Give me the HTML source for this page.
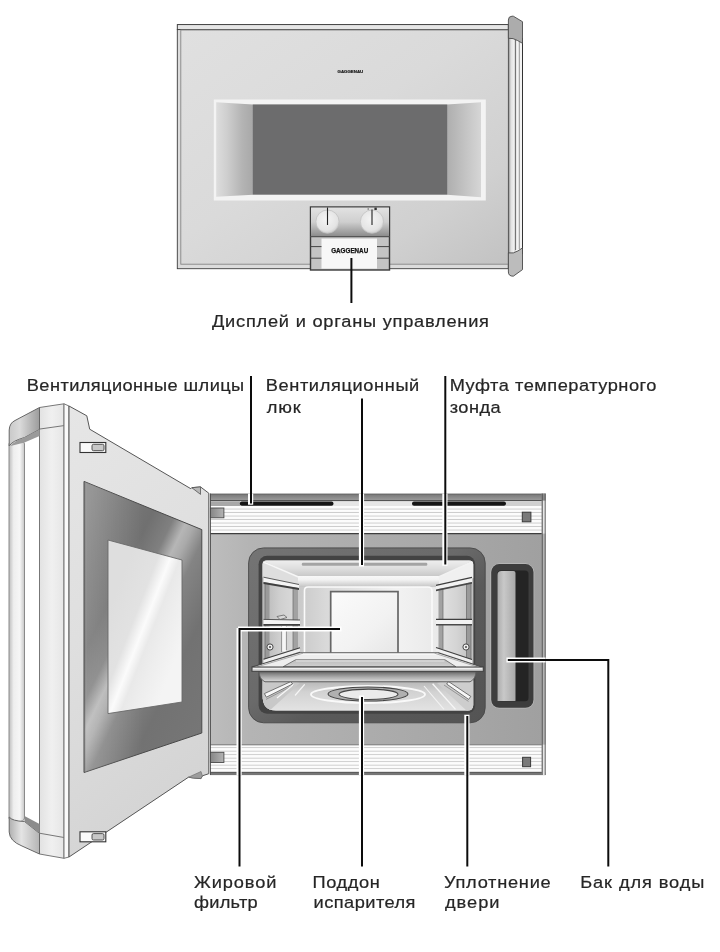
<!DOCTYPE html>
<html lang="ru">
<head>
<meta charset="utf-8">
<title>Gaggenau</title>
<style>
html,body{margin:0;padding:0;background:#fff;}
body{width:720px;height:952px;overflow:hidden;font-family:"Liberation Sans",sans-serif;}
svg{display:block;position:absolute;left:0;top:0;will-change:transform;}
text{font-family:"Liberation Sans",sans-serif;fill:#2a2a2a;}
.lbl{font-size:17.2px;stroke:#262626;stroke-width:0.22px;fill:#262626;}
.ld{stroke:#0c0c0c;stroke-width:2;fill:none;}
.ldh{stroke:#fff;stroke-width:5.2;fill:none;}
</style>
</head>
<body>
<svg width="720" height="952" viewBox="0 0 720 952">
<defs>
<linearGradient id="gFace" x1="0" y1="0" x2="1" y2="1">
<stop offset="0" stop-color="#e0e0e0"/><stop offset="0.45" stop-color="#dadada"/><stop offset="0.78" stop-color="#d0d0d0"/><stop offset="1" stop-color="#c2c2c2"/>
</linearGradient>
<linearGradient id="gBevL" x1="0" y1="0" x2="1" y2="0">
<stop offset="0" stop-color="#dddddd"/><stop offset="0.3" stop-color="#cecece"/><stop offset="0.7" stop-color="#b4b4b4"/><stop offset="1" stop-color="#a8a8a8"/>
</linearGradient>
<linearGradient id="gBevR" x1="0" y1="0" x2="1" y2="0">
<stop offset="0" stop-color="#aeaeae"/><stop offset="0.4" stop-color="#bebebe"/><stop offset="1" stop-color="#d6d6d6"/>
</linearGradient>
<linearGradient id="gKnobArea" x1="0" y1="0" x2="0" y2="1">
<stop offset="0" stop-color="#e2e2e2"/><stop offset="0.5" stop-color="#cfcfcf"/><stop offset="1" stop-color="#8c8c8c"/>
</linearGradient>
<radialGradient id="gKnob" cx="0.45" cy="0.4" r="0.6">
<stop offset="0" stop-color="#f4f4f4"/><stop offset="0.8" stop-color="#e4e4e4"/><stop offset="1" stop-color="#cfcfcf"/>
</radialGradient>
<linearGradient id="gHandle" x1="0" y1="0" x2="1" y2="0">
<stop offset="0" stop-color="#9a9a9a"/><stop offset="0.4" stop-color="#e2e2e2"/><stop offset="0.75" stop-color="#f0f0f0"/><stop offset="1" stop-color="#c4c4c4"/>
</linearGradient>
</defs>

<!-- ================= TOP OVEN ================= -->
<g id="top-oven">
<!-- top lip -->
<rect x="177.3" y="24.6" width="331" height="5" fill="#e6e6e6" stroke="#2e2e2e" stroke-width="0.9"/>
<!-- body -->
<rect x="177.3" y="29.6" width="331" height="239.1" fill="#dcdcdc" stroke="#3c3c3c" stroke-width="0.9"/>
<rect x="180.8" y="30" width="327.5" height="234.2" fill="url(#gFace)" stroke="#868686" stroke-width="0.9"/>
<!-- window frame -->
<rect x="213.8" y="99.5" width="272" height="101" fill="#f3f3f3"/>
<polygon points="216.2,102.3 253,104.4 253,194.7 216.2,196.8" fill="url(#gBevL)"/>
<polygon points="447,104.4 481,102.2 481,197.2 447,194.7" fill="url(#gBevR)"/>
<rect x="252.8" y="104.4" width="194.4" height="90.3" fill="#6c6c6d"/>
<!-- logo top -->
<text x="337.6" y="73.2" textLength="25.6" lengthAdjust="spacingAndGlyphs" style="font-size:4px;font-weight:bold;fill:#222;stroke:#222;stroke-width:0.2">GAGGENAU</text>
<!-- handle -->
<rect x="508.3" y="38" width="14.2" height="216" fill="#f4f4f4"/>
<rect x="508.3" y="38" width="7.2" height="216" fill="url(#gHandle)"/>
<line x1="508.6" y1="38" x2="508.6" y2="254" stroke="#555" stroke-width="1"/>
<line x1="515.6" y1="40" x2="515.6" y2="250" stroke="#6a6a6a" stroke-width="1"/>
<line x1="519.3" y1="42" x2="519.3" y2="249" stroke="#8c8c8c" stroke-width="0.9"/>
<line x1="522.5" y1="38" x2="522.5" y2="254" stroke="#333" stroke-width="1"/>
<path d="M508.4 38.3 V20 Q508.4 16.2 512 16.2 H513.3 L522.5 21.7 V43.3 Q517 40 513 38.6 Z" fill="#acacac" stroke="#4a4a4a" stroke-width="0.9"/>
<path d="M508.4 252.9 H513.3 Q518 251.5 522.5 247.9 V269.6 L513.3 276.2 Q508.4 276.2 508.4 272 Z" fill="#bcbcbc" stroke="#4a4a4a" stroke-width="0.9"/>
<!-- control panel -->
<rect x="310.5" y="207" width="79" height="63" fill="#c4c4c4" stroke="#3a3a3a" stroke-width="1.4"/>
<rect x="311" y="207.6" width="78" height="28.6" fill="url(#gKnobArea)"/>
<line x1="310.5" y1="236.6" x2="389.5" y2="236.6" stroke="#555" stroke-width="1.4"/>
<circle cx="327.5" cy="221.6" r="11.6" fill="url(#gKnob)" stroke="#c2c2c2" stroke-width="0.8"/>
<circle cx="372" cy="221.6" r="11.6" fill="url(#gKnob)" stroke="#c2c2c2" stroke-width="0.8"/>
<line x1="327.5" y1="207.5" x2="327.5" y2="225" stroke="#222" stroke-width="1.1"/>
<line x1="372" y1="209.5" x2="372" y2="225" stroke="#222" stroke-width="1.1"/>
<rect x="374.4" y="207.6" width="2.4" height="2.4" fill="#333"/>
<rect x="367.6" y="208.4" width="1.2" height="1.2" fill="#555"/>
<rect x="321.5" y="238.6" width="55.5" height="30" fill="#f7f7f7"/>
<line x1="310.5" y1="246.6" x2="321.5" y2="246.6" stroke="#444" stroke-width="1"/>
<line x1="310.5" y1="258.2" x2="321.5" y2="258.2" stroke="#444" stroke-width="1"/>
<line x1="377" y1="246.6" x2="389.5" y2="246.6" stroke="#444" stroke-width="1"/>
<line x1="377" y1="258.2" x2="389.5" y2="258.2" stroke="#444" stroke-width="1"/>
<text x="331.2" y="252.9" textLength="37" lengthAdjust="spacingAndGlyphs" style="font-size:6.3px;font-weight:bold;fill:#111;stroke:#111;stroke-width:0.25">GAGGENAU</text>
<!-- leader -->
<line x1="351.4" y1="258" x2="351.4" y2="303" class="ld" stroke-width="1.8"/>
</g>
<text class="lbl" transform="translate(212.0 326.5) scale(1.06 1)" textLength="261.32" lengthAdjust="spacing">Дисплей и органы управления</text>

<!-- ================= LABELS ================= -->
<g id="labels">
<text class="lbl" transform="translate(26.8 391.4) scale(1.06 1)" textLength="205.09" lengthAdjust="spacing">Вентиляционные шлицы</text>
<text class="lbl" transform="translate(265.7 391.4) scale(1.06 1)" textLength="144.91" lengthAdjust="spacing">Вентиляционный</text>
<text class="lbl" transform="translate(266.7 412.7) scale(1.06 1)" textLength="32.08" lengthAdjust="spacing">люк</text>
<text class="lbl" transform="translate(449.7 391.4) scale(1.06 1)" textLength="195.09" lengthAdjust="spacing">Муфта температурного</text>
<text class="lbl" transform="translate(449.7 412.7) scale(1.06 1)" textLength="48.11" lengthAdjust="spacing">зонда</text>
<text class="lbl" transform="translate(194.0 888.2) scale(1.06 1)" textLength="77.74" lengthAdjust="spacing">Жировой</text>
<text class="lbl" transform="translate(194.0 908.3) scale(1.06 1)" textLength="60.09" lengthAdjust="spacing">фильтр</text>
<text class="lbl" transform="translate(312.5 888.2) scale(1.06 1)" textLength="63.58" lengthAdjust="spacing">Поддон</text>
<text class="lbl" transform="translate(313.5 908.3) scale(1.06 1)" textLength="96.23" lengthAdjust="spacing">испарителя</text>
<text class="lbl" transform="translate(444.0 888.0) scale(1.06 1)" textLength="100.66" lengthAdjust="spacing">Уплотнение</text>
<text class="lbl" transform="translate(445.0 908.0) scale(1.06 1)" textLength="51.42" lengthAdjust="spacing">двери</text>
<text class="lbl" transform="translate(580.2 888.0) scale(1.06 1)" textLength="117.08" lengthAdjust="spacing">Бак для воды</text>
</g>

<!-- ================= LOWER OVEN (body) ================= -->
<g id="body">
<defs>
<pattern id="pStripe" x="0" y="506" width="7" height="3.5" patternUnits="userSpaceOnUse">
<rect width="7" height="3.5" fill="#fcfcfc"/><rect y="2.6" width="7" height="0.9" fill="#c9c9c9"/>
</pattern>
<pattern id="pStripeB" x="0" y="744.6" width="7" height="3.5" patternUnits="userSpaceOnUse">
<rect width="7" height="3.5" fill="#fcfcfc"/><rect y="2.6" width="7" height="0.9" fill="#c9c9c9"/>
</pattern>
<linearGradient id="gTopStrip" x1="0" y1="0" x2="0" y2="1">
<stop offset="0" stop-color="#5a5a5a"/><stop offset="0.25" stop-color="#7e7e7e"/><stop offset="1" stop-color="#9a9a9a"/>
</linearGradient>
<linearGradient id="gPanel" x1="0" y1="0" x2="1" y2="0">
<stop offset="0" stop-color="#bdbdbd"/><stop offset="0.12" stop-color="#b4b4b4"/><stop offset="0.8" stop-color="#a5a5a5"/><stop offset="1" stop-color="#a0a0a0"/>
</linearGradient>
<linearGradient id="gCeil" x1="0" y1="0" x2="0" y2="1">
<stop offset="0" stop-color="#efefef"/><stop offset="0.5" stop-color="#dedede"/><stop offset="1" stop-color="#c6c6c6"/>
</linearGradient>
<linearGradient id="gWallL" x1="0" y1="0" x2="1" y2="0">
<stop offset="0" stop-color="#b4b4b4"/><stop offset="0.5" stop-color="#cfcfcf"/><stop offset="1" stop-color="#dcdcdc"/>
</linearGradient>
<linearGradient id="gWallR" x1="0" y1="0" x2="1" y2="0">
<stop offset="0" stop-color="#e2e2e2"/><stop offset="0.5" stop-color="#d4d4d4"/><stop offset="1" stop-color="#bebebe"/>
</linearGradient>
<linearGradient id="gBack" x1="0" y1="0" x2="1" y2="0">
<stop offset="0" stop-color="#c9c9c9"/><stop offset="0.2" stop-color="#d9d9d9"/><stop offset="0.7" stop-color="#f2f2f2"/><stop offset="1" stop-color="#e9e9e9"/>
</linearGradient>
<linearGradient id="gBackTop" x1="0" y1="0" x2="0" y2="1">
<stop offset="0" stop-color="#f8f8f8"/><stop offset="0.35" stop-color="#f2f2f2"/><stop offset="1" stop-color="#c4c4c4"/>
</linearGradient>
<linearGradient id="gFloor" x1="0" y1="0" x2="0" y2="1">
<stop offset="0" stop-color="#b6b6b6"/><stop offset="0.35" stop-color="#d2d2d2"/><stop offset="1" stop-color="#e4e4e4"/>
</linearGradient>
<linearGradient id="gTrayIn" x1="0" y1="0" x2="0" y2="1">
<stop offset="0" stop-color="#bcbcbc"/><stop offset="1" stop-color="#d0d0d0"/>
</linearGradient>
<linearGradient id="gTrayFront" x1="0" y1="0" x2="0" y2="1">
<stop offset="0" stop-color="#505050"/><stop offset="0.25" stop-color="#848484"/><stop offset="0.6" stop-color="#b0b0b0"/><stop offset="0.88" stop-color="#cecece"/><stop offset="1" stop-color="#9c9c9c"/>
</linearGradient>
<linearGradient id="gTank" x1="0" y1="0" x2="1" y2="0">
<stop offset="0" stop-color="#acacac"/><stop offset="0.35" stop-color="#c8c8c8"/><stop offset="1" stop-color="#a8a8a8"/>
</linearGradient>
<linearGradient id="gFilter" x1="0" y1="0" x2="1" y2="1">
<stop offset="0" stop-color="#fbfbfb"/><stop offset="0.6" stop-color="#f2f2f2"/><stop offset="1" stop-color="#e6e6e6"/>
</linearGradient>
<linearGradient id="gHinge" x1="0" y1="0" x2="1" y2="0">
<stop offset="0" stop-color="#868686"/><stop offset="1" stop-color="#b4b4b4"/>
</linearGradient>
<linearGradient id="gSeal" x1="0" y1="0" x2="1" y2="1">
<stop offset="0" stop-color="#747474"/><stop offset="0.45" stop-color="#6a6a6a"/><stop offset="0.6" stop-color="#5a5a5a"/><stop offset="1" stop-color="#545454"/>
</linearGradient>
<clipPath id="cCav"><path d="M266.6 560.5 H469 Q473.2 560.5 473.2 564.5 V705 Q473.2 710.6 467.5 710.6 H276 Q262.6 710.6 262.6 696 V564.5 Q262.6 560.5 266.6 560.5 Z"/></clipPath>
</defs>
<!-- outer shell -->
<rect x="210" y="493.6" width="335.5" height="281.4" fill="#fbfbfb"/>
<rect x="210" y="493.6" width="335.5" height="6.6" fill="url(#gTopStrip)"/>
<rect x="210" y="500.2" width="333" height="1.1" fill="#2e2e2e"/>
<rect x="210" y="501.3" width="333" height="4.8" fill="#e6e6e6"/>
<rect x="210" y="501.3" width="30" height="4.8" fill="#a8a8a8"/>
<rect x="506" y="501.3" width="36" height="4.8" fill="#d0d0d0"/>
<rect x="210" y="506" width="333" height="27.6" fill="url(#pStripe)"/>
<rect x="239.8" y="501.5" width="93.7" height="4.2" rx="2" fill="#161616"/>
<rect x="412" y="501.5" width="94" height="4.2" rx="2" fill="#161616"/>
<rect x="522.3" y="512.2" width="8.6" height="9.6" fill="#7a7a7a" stroke="#3a3a3a" stroke-width="1"/>
<!-- front panel -->
<rect x="210" y="533.6" width="333" height="211" fill="url(#gPanel)"/>
<line x1="210" y1="533.6" x2="543" y2="533.6" stroke="#3e3e3e" stroke-width="1.3"/>
<!-- bottom stripes -->
<rect x="210" y="744.6" width="333" height="27.8" fill="url(#pStripeB)"/>
<line x1="210" y1="744.8" x2="543" y2="744.8" stroke="#6e6e6e" stroke-width="1"/>
<rect x="210" y="772.3" width="335.5" height="2.8" fill="#767676"/>
<line x1="210" y1="772.4" x2="545" y2="772.4" stroke="#444" stroke-width="0.8"/>
<rect x="522.6" y="757.3" width="8" height="9.4" fill="#7a7a7a" stroke="#3a3a3a" stroke-width="1"/>
<!-- sides -->
<line x1="210.4" y1="493.6" x2="210.4" y2="775" stroke="#4e4e4e" stroke-width="1"/>
<rect x="541.8" y="493.6" width="3.8" height="281.4" fill="#e6e6e6"/>
<rect x="541.8" y="533.6" width="3.8" height="211" fill="#b4b4b4"/>
<rect x="541.8" y="493.6" width="3.8" height="7" fill="#8a8a8a"/>
<line x1="542.2" y1="493.6" x2="542.2" y2="775" stroke="#4e4e4e" stroke-width="1"/>
<line x1="545.2" y1="493.6" x2="545.2" y2="775" stroke="#555" stroke-width="0.9"/>
<!-- hinge blocks -->
<rect x="210.4" y="508" width="13.5" height="9.8" fill="url(#gHinge)" stroke="#4a4a4a" stroke-width="0.9"/>
<rect x="210.4" y="752.3" width="13.5" height="10.2" fill="url(#gHinge)" stroke="#4a4a4a" stroke-width="0.9"/>
<!-- seal -->
<rect x="248.6" y="547.9" width="236.6" height="174.9" rx="15" ry="15" fill="url(#gSeal)" stroke="#484848" stroke-width="0.9"/>
<rect x="258.6" y="555.8" width="216.6" height="158" rx="8.5" ry="8.5" fill="#434343"/>
<!-- cavity -->
<g clip-path="url(#cCav)">
<rect x="261" y="560" width="213" height="152" fill="#d4d4d4"/>
<!-- ceiling -->
<polygon points="261,560 474,560 439,577 298,577" fill="url(#gCeil)"/>
<rect x="301.8" y="562.7" width="125.5" height="3" rx="1.2" fill="#a4a4a4"/>
<!-- left wall -->
<polygon points="261,560 298,577 298,652 261,670" fill="url(#gWallL)"/>
<!-- right wall -->
<polygon points="474,560 439,577 439,652 474,670" fill="url(#gWallR)"/>
<polygon points="474,560 439,577 439,586 474,578" fill="#f0f0f0"/>
<polygon points="261,560 298,577 298,585 261,577" fill="#dedede"/>
<!-- back wall -->
<rect x="298" y="576" width="141" height="77" fill="url(#gBack)"/>
<rect x="298" y="576" width="141" height="11" fill="url(#gBackTop)"/>
<line x1="262" y1="561.5" x2="298.5" y2="577" stroke="#f6f6f6" stroke-width="1.4"/>
<line x1="473" y1="561.5" x2="438.5" y2="577" stroke="#f2f2f2" stroke-width="1.4"/>
<path d="M304.5 653 V590.5 Q304.5 587 308 587 H428 Q432 587 432 591 V653" fill="none" stroke="#fafafa" stroke-width="1.6"/>
<!-- filter -->
<rect x="330.7" y="591.6" width="67.3" height="62" fill="url(#gFilter)" stroke="#666" stroke-width="1.7"/>
<!-- left rack -->
<rect x="265" y="582" width="4.5" height="80" fill="#9a9a9a"/>
<line x1="265" y1="582" x2="265" y2="662" stroke="#666" stroke-width="0.7"/>
<rect x="293" y="587" width="5" height="64" fill="#a2a2a2"/>
<line x1="293" y1="588" x2="293" y2="651" stroke="#6a6a6a" stroke-width="0.7"/>
<polygon points="263.5,577.3 299,584.6 299,588 263.5,582" fill="#f4f4f4"/>
<polygon points="263.5,582 299,588 299,590 263.5,584" fill="#3e3e3e"/>
<line x1="263.5" y1="577.2" x2="299" y2="584.5" stroke="#4a4a4a" stroke-width="0.9"/>
<polygon points="263.5,619.6 300,620.2 300,624 263.5,624" fill="#f4f4f4"/>
<polygon points="263.5,624 300,624 300,625.8 263.5,625.8" fill="#3e3e3e"/>
<line x1="263.5" y1="619.4" x2="300" y2="620" stroke="#4a4a4a" stroke-width="0.9"/>
<path d="M277 616.5 L284 615 L287 617.5 L280 619.5 Z" fill="#d8d8d8" stroke="#555" stroke-width="0.7"/>
<rect x="282" y="626" width="4" height="25.5" fill="#f6f6f6"/>
<line x1="281.6" y1="626" x2="281.6" y2="652" stroke="#777" stroke-width="0.7"/>
<line x1="286.4" y1="626" x2="286.4" y2="650" stroke="#777" stroke-width="0.7"/>
<polygon points="263.5,659.5 300,648 300,651.4 263.5,663.6" fill="#efefef"/>
<line x1="263.5" y1="659.3" x2="300" y2="647.8" stroke="#3e3e3e" stroke-width="1.1"/>
<circle cx="270" cy="647" r="3.1" fill="#ececec" stroke="#4a4a4a" stroke-width="1"/>
<circle cx="270" cy="647" r="1" fill="#4a4a4a"/>
<!-- right rack -->
<rect x="438.5" y="587" width="4.5" height="62" fill="#a2a2a2"/>
<line x1="443" y1="588" x2="443" y2="649" stroke="#6a6a6a" stroke-width="0.7"/>
<rect x="466.5" y="582" width="4.5" height="80" fill="#9a9a9a"/>
<line x1="466.5" y1="583" x2="466.5" y2="661" stroke="#666" stroke-width="0.7"/>
<line x1="471" y1="583" x2="471" y2="661" stroke="#666" stroke-width="0.7"/>
<polygon points="436,585.6 472,577.6 472,582 436,589.4" fill="#f2f2f2"/>
<line x1="436" y1="585.4" x2="472" y2="577.4" stroke="#3e3e3e" stroke-width="1.1"/>
<polygon points="436,589.4 472,582 472,583.8 436,591.2" fill="#4a4a4a"/>
<polygon points="436,619.6 472,619.6 472,624 436,624" fill="#f2f2f2"/>
<line x1="436" y1="619.4" x2="472" y2="619.4" stroke="#3e3e3e" stroke-width="1.1"/>
<line x1="436" y1="624.8" x2="472" y2="624.8" stroke="#4a4a4a" stroke-width="1.4"/>
<polygon points="436,647.6 472,659.6 472,663.4 436,651" fill="#efefef"/>
<line x1="436" y1="647.4" x2="472" y2="659.4" stroke="#3e3e3e" stroke-width="1.1"/>
<circle cx="466" cy="647" r="3.1" fill="#ececec" stroke="#4a4a4a" stroke-width="1"/>
<circle cx="466" cy="647" r="1" fill="#4a4a4a"/>
<!-- floor -->
<rect x="261" y="681" width="213" height="31" fill="url(#gFloor)"/>
<polygon points="261,672 300,683 268,712 261,712" fill="#c8c8c8"/>
<polygon points="474,672 437,683 468,712 474,712" fill="#cdcdcd"/>
<!-- lower rack rails under tray -->
<polygon points="264.4,693.6 290.8,681.6 292.6,684 266.4,697.2" fill="#f7f7f7" stroke="#555" stroke-width="0.8"/>
<polygon points="470.8,696.4 448.6,681.6 446.6,684 468.6,699.4" fill="#f7f7f7" stroke="#555" stroke-width="0.8"/>
<line x1="266" y1="699.4" x2="294" y2="685" stroke="#8e8e8e" stroke-width="0.9"/>
<line x1="468.5" y1="701.4" x2="444" y2="685" stroke="#8e8e8e" stroke-width="0.9"/>
<line x1="277" y1="698" x2="293.6" y2="684.4" stroke="#f6f6f6" stroke-width="1.3"/>
<line x1="295" y1="695.5" x2="304.7" y2="684.4" stroke="#f6f6f6" stroke-width="1.2"/>
<line x1="455.5" y1="709.4" x2="432.6" y2="683.8" stroke="#f6f6f6" stroke-width="1.4"/>
<line x1="444" y1="709.4" x2="424" y2="686" stroke="#f2f2f2" stroke-width="1.1"/>
<!-- evaporator dish -->
<ellipse cx="368" cy="694.5" rx="57" ry="8.5" fill="none" stroke="#f9f9f9" stroke-width="1.8"/>
<ellipse cx="368" cy="694" rx="40" ry="7" fill="#b0b0b0" stroke="#454545" stroke-width="1.1"/>
<ellipse cx="368.5" cy="694.3" rx="29.5" ry="5.2" fill="#ebebeb" stroke="#454545" stroke-width="1.1"/>
</g>
<!-- tray -->
<polygon points="252,667 300,652.4 437.5,652.4 483.3,667.6" fill="#eeeeee"/>
<polygon points="283,666.8 295.5,659.8 445,659.8 456,666.8" fill="url(#gTrayIn)" stroke="#6c6c6c" stroke-width="0.9"/>
<line x1="296" y1="660.9" x2="444.5" y2="660.9" stroke="#f4f4f4" stroke-width="0.9"/>
<line x1="300" y1="652.8" x2="437.5" y2="652.8" stroke="#5a5a5a" stroke-width="1.1"/>
<line x1="300" y1="654.2" x2="437.5" y2="654.2" stroke="#fafafa" stroke-width="1"/>
<line x1="252" y1="667" x2="300" y2="652.4" stroke="#4a4a4a" stroke-width="1.1"/>
<line x1="483.3" y1="667.6" x2="437.5" y2="652.4" stroke="#4a4a4a" stroke-width="1.1"/>
<line x1="256.5" y1="667" x2="303" y2="653.2" stroke="#9a9a9a" stroke-width="0.8"/>
<line x1="479" y1="667.4" x2="434.5" y2="653.2" stroke="#9a9a9a" stroke-width="0.8"/>
<path d="M259 671 H476 Q476 679 470 681.8 H265 Q259 679 259 671 Z" fill="url(#gTrayFront)" stroke="#5e5e5e" stroke-width="0.9"/>
<rect x="252" y="667" width="231.3" height="4.3" fill="#d6d6d6" stroke="#3e3e3e" stroke-width="1"/>
<line x1="253" y1="668.5" x2="482" y2="668.5" stroke="#f2f2f2" stroke-width="0.9"/>
<!-- water tank -->
<rect x="490.4" y="563.3" width="43.9" height="145.3" rx="9" ry="9" fill="#bababa"/>
<rect x="491.2" y="564.1" width="42.3" height="143.7" rx="8" ry="8" fill="#3d3d3d"/>
<rect x="497.3" y="570.6" width="31.2" height="130.6" rx="3.5" ry="3.5" fill="#242424"/>
<path d="M497.5 700.4 V575 Q497.5 571 501.5 571 H513.5 Q515.5 571 515.5 573 V700.4 Q515.5 701 514.5 701 H498.5 Q497.5 701 497.5 700.4 Z" fill="url(#gTank)"/>
</g>
<g id="door">
<defs>
<linearGradient id="gDoorFace" x1="0" y1="0" x2="0.25" y2="1">
<stop offset="0" stop-color="#e6e6e6"/><stop offset="0.5" stop-color="#dfdfdf"/><stop offset="1" stop-color="#d4d4d4"/>
</linearGradient>
<linearGradient id="gDoorSide" x1="0" y1="0" x2="1" y2="0">
<stop offset="0" stop-color="#e2e2e2"/><stop offset="0.5" stop-color="#f0f0f0"/><stop offset="1" stop-color="#e6e6e6"/>
</linearGradient>
<linearGradient id="gBar" x1="0" y1="0" x2="1" y2="0">
<stop offset="0" stop-color="#bdbdbd"/><stop offset="0.3" stop-color="#eeeeee"/><stop offset="0.7" stop-color="#f6f6f6"/><stop offset="1" stop-color="#c6c6c6"/>
</linearGradient>
<linearGradient id="gCapT" x1="0" y1="0" x2="1" y2="0">
<stop offset="0" stop-color="#c9c9c9"/><stop offset="0.35" stop-color="#dadada"/><stop offset="1" stop-color="#9c9c9c"/>
</linearGradient>
<linearGradient id="gCapB" x1="0" y1="0" x2="1" y2="0">
<stop offset="0" stop-color="#b0b0b0"/><stop offset="0.4" stop-color="#e4e4e4"/><stop offset="1" stop-color="#b4b4b4"/>
</linearGradient>
<linearGradient id="gGlassFrame" gradientUnits="userSpaceOnUse" x1="36" y1="578" x2="250" y2="682">
<stop offset="0.05" stop-color="#848484"/><stop offset="0.2" stop-color="#787878"/><stop offset="0.32" stop-color="#707070"/><stop offset="0.41" stop-color="#808080"/><stop offset="0.465" stop-color="#b6b6b6"/><stop offset="0.5" stop-color="#aaaaaa"/><stop offset="0.56" stop-color="#848484"/><stop offset="0.7" stop-color="#727272"/><stop offset="0.9" stop-color="#767676"/>
</linearGradient>
<linearGradient id="gGlassFrameL" x1="0" y1="0" x2="1" y2="0">
<stop offset="0" stop-color="#505050" stop-opacity="0.6"/><stop offset="0.025" stop-color="#ffffff" stop-opacity="0.16"/><stop offset="0.15" stop-color="#ffffff" stop-opacity="0.12"/><stop offset="0.5" stop-color="#ffffff" stop-opacity="0"/>
</linearGradient>
<linearGradient id="gGlassIn" gradientUnits="userSpaceOnUse" x1="83" y1="603" x2="207" y2="651">
<stop offset="0.2" stop-color="#dedede"/><stop offset="0.4" stop-color="#e2e2e2"/><stop offset="0.49" stop-color="#fbfbfb"/><stop offset="0.56" stop-color="#e9e9e9"/><stop offset="0.66" stop-color="#eeeeee"/><stop offset="0.8" stop-color="#f4f4f4"/>
</linearGradient>
</defs>
<!-- handle bar -->
<rect x="9" y="440" width="15.5" height="382" rx="7" ry="4" fill="url(#gBar)" stroke="#8a8a8a" stroke-width="1"/>
<!-- door side edge -->
<polygon points="39.5,407.5 64,403.8 64,858.3 39.5,854" fill="url(#gDoorSide)" stroke="#777" stroke-width="1"/>
<polygon points="64,403.8 69,406 69,857 64,858.3" fill="#fafafa" stroke="#777" stroke-width="1"/>
<line x1="40" y1="429" x2="64" y2="425.6" stroke="#777" stroke-width="1"/>
<line x1="40" y1="833.3" x2="64" y2="837.5" stroke="#777" stroke-width="1"/>
<!-- top cap -->
<path d="M9.2 443 V430 Q9.5 423 15 420.5 L39.5 407.5 V429.5 L24.5 437.5 Q12 441 9.2 446 Z" fill="url(#gCapT)" stroke="#666" stroke-width="1"/>
<path d="M39.5 429.5 L24.5 437.5 Q14 441 10.5 446 L24.5 442.5 L39.5 436 Z" fill="#9a9a9a"/>
<!-- bottom cap -->
<path d="M9.2 817 Q12 821 24.5 821.5 L39.5 833.3 V854 L22 846 Q9.5 841 9.2 832 Z" fill="url(#gCapB)" stroke="#666" stroke-width="1"/>
<path d="M24.5 816 L39.5 824 V833.3 L24.5 821.5 Z" fill="#8c8c8c"/>
<!-- front face -->
<path d="M69 406 L86.8 415.8 L89.7 429.2 L190.8 488.7 L191.8 487.7 L200.5 486.9 L208.8 493.2 V773.7 L202.4 775.8 L201 778.6 L193.3 778 L188.5 777.2 L69 857 Z" fill="url(#gDoorFace)" stroke="#555" stroke-width="1"/>
<path d="M191.8 487.7 L200.5 494.4 L200.5 486.9 Z" fill="#b8b8b8" stroke="#555" stroke-width="0.8"/>
<path d="M188.5 777.2 L201 771.5 L202.4 775.8 L201 778.6 L193.3 778 Z" fill="#9c9c9c" stroke="#666" stroke-width="0.6"/>
<!-- hinge pins -->
<rect x="80" y="442.5" width="25.8" height="10" fill="#fafafa" stroke="#333" stroke-width="1.1"/>
<rect x="92" y="444.3" width="12" height="6.4" rx="1.5" fill="#c8c8c8" stroke="#444" stroke-width="0.9"/>
<rect x="80" y="831.8" width="25.8" height="10" fill="#fafafa" stroke="#333" stroke-width="1.1"/>
<rect x="92" y="833.6" width="12" height="6.4" rx="1.5" fill="#c8c8c8" stroke="#444" stroke-width="0.9"/>
<!-- glass frame -->
<polygon points="84,481.4 201.8,529.6 201.8,733 84,772.5" fill="url(#gGlassFrame)" stroke="#4a4a4a" stroke-width="1"/>
<polygon points="84,481.4 201.8,529.6 201.8,733 84,772.5" fill="url(#gGlassFrameL)"/>
<!-- inner glass -->
<polygon points="108,540 182,560 182,702 108,713.6" fill="url(#gGlassIn)" stroke="#6a6a6a" stroke-width="0.9"/>
</g>
<g id="leaders" stroke-linecap="butt" stroke-linejoin="miter">
<path class="ldh" d="M250.6 493.6 V504.8 M361.5 493.6 V566.4 M444.9 493.6 V565.8 M239.1 775 V628 M238 629 H341.5 M361.5 775 V695.6 M466.9 775 V714.8 M545.6 660 H506.4"/>
<path class="ld" d="M251 376 V503.5"/>
<path class="ld" d="M362 398.5 V565"/>
<path class="ld" d="M445.3 376 V564.5"/>
<path class="ld" d="M239.5 866.5 V629 H340"/>
<path class="ld" d="M362 866.5 V697"/>
<path class="ld" d="M467.3 866.5 V716"/>
<path class="ld" d="M608.3 866.5 V660 H507.8"/>
</g>
</svg>
</body>
</html>
